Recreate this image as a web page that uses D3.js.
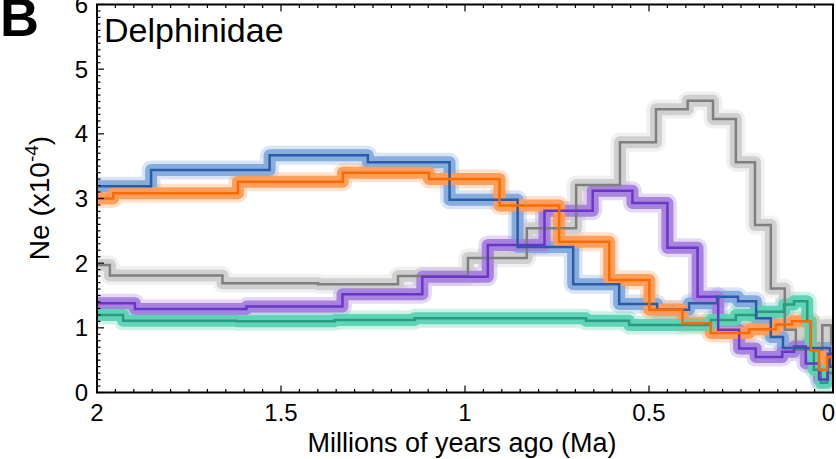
<!DOCTYPE html>
<html>
<head>
<meta charset="utf-8">
<script src="https://cdn.jsdelivr.net/npm/d3@7"></script>
<style>
  html, body { margin: 0; padding: 0; background: #fff; }
  svg { display: block; }
  text { font-family: "Liberation Sans", Arial, Helvetica, sans-serif; fill: #000; }
</style>
</head>
<body>
<svg id="chart" width="836" height="459"></svg>
<script>
// ---- Data (time in Ma, Ne in units of 10^4) ----
const xTickValues = [2, 1.5, 1, 0.5, 0];
const xTickLabels = ["2", "1.5", "1", "0.5", "0"];
const yTickValues = [0, 1, 2, 3, 4, 5, 6];
const yTickLabels = ["0", "1", "2", "3", "4", "5", "6"];

const seriesNames = ["gray", "teal", "blue", "purple", "orange"];

const grayT = [0, 0.005, 0.029, 0.101, 0.131, 0.169, 0.212, 0.264, 0.326, 0.395, 0.481, 0.579, 0.698, 0.832, 0.992, 1.182, 1.399, 1.659, 1.965, 2.0];
const grayV = [0.75, 1.04, 0.66, 0.97, 1.61, 2.59, 3.56, 4.23, 4.51, 4.38, 3.87, 3.21, 2.54, 2.08, 1.80, 1.675, 1.69, 1.81, 1.97, 1.97];

const tealT = [0, 0.016, 0.033, 0.052, 0.061, 0.070, 0.106, 0.133, 0.208, 0.264, 0.332, 0.554, 0.671, 1.137, 1.354, 1.621, 1.929, 2.0];
const tealV = [0.3, 0.15, 0.35, 0.66, 1.10, 1.41, 1.36, 1.25, 1.20, 1.12, 1.045, 1.11, 1.15, 1.12, 1.10, 1.11, 1.20, 1.20];

const blueT = [0, 0.008, 0.136, 0.169, 0.209, 0.258, 0.315, 0.391, 0.478, 0.581, 0.706, 0.857, 1.042, 1.264, 1.531, 1.853, 2.0];
const blueV = [0.4, 0.69, 0.86, 1.15, 1.41, 1.48, 1.38, 1.28, 1.37, 1.675, 2.25, 2.98, 3.56, 3.67, 3.44, 3.19, 3.19];

const purpleT = [0, 0.014, 0.038, 0.074, 0.106, 0.138, 0.210, 0.255, 0.312, 0.368, 0.450, 0.545, 0.653, 0.784, 0.938, 1.116, 1.333, 1.594, 1.897, 2.0];
const purpleV = [0.6, 0.2, 0.45, 0.71, 0.63, 0.55, 0.68, 0.97, 1.48, 2.24, 2.93, 3.12, 2.81, 2.28, 1.79, 1.52, 1.33, 1.29, 1.38, 1.38];

const orangeT = [0, 0.016, 0.038, 0.060, 0.111, 0.155, 0.228, 0.332, 0.409, 0.499, 0.608, 0.744, 0.906, 1.098, 1.332, 1.617, 1.956, 2.0];
const orangeV = [0.55, 0.35, 0.65, 1.10, 1.05, 0.98, 0.92, 1.07, 1.28, 1.74, 2.33, 2.89, 3.30, 3.40, 3.26, 3.08, 3.00, 3.00];

const mainColors = { gray: "#7f7f7f", teal: "#2a9a80", blue: "#2b5ca6", purple: "#6a35c9", orange: "#ff6a00" };
const bandColors = { gray: "#cdcdcd", teal: "#5ad2b3", blue: "#82a9de", purple: "#a47fdd", orange: "#ff9b55" };

const seriesData = {
  gray: grayT.map((t, i) => ({ t, v: grayV[i] })),
  teal: tealT.map((t, i) => ({ t, v: tealV[i] })),
  blue: blueT.map((t, i) => ({ t, v: blueV[i] })),
  purple: purpleT.map((t, i) => ({ t, v: purpleV[i] })),
  orange: orangeT.map((t, i) => ({ t, v: orangeV[i] }))
};

// ---- Layout ----
const svg = d3.select("#chart");
const L = 97, R = 833, T = 4.5, B = 392.5;
const x = d3.scaleLinear().domain([2, 0]).range([L, R]);
const y = d3.scaleLinear().domain([0, 6]).range([B, T]);

svg.append("defs").append("clipPath").attr("id", "plotclip")
  .append("rect").attr("x", L).attr("y", T).attr("width", R - L).attr("height", B - T);

const line = d3.line().x(d => x(d.t)).y(d => y(d.v)).curve(d3.curveStepAfter);

const plot = svg.append("g").attr("clip-path", "url(#plotclip)");

// bootstrap bands: faint outer spread, then denser core
const bandOrder = ["gray", "blue", "purple", "orange", "teal"];
bandOrder.forEach(name => {
  plot.append("path")
    .attr("d", line(seriesData[name]))
    .attr("fill", "none")
    .attr("stroke", bandColors[name])
    .attr("stroke-width", 19)
    .attr("stroke-linejoin", "round")
    .attr("stroke-linecap", "butt")
    .attr("opacity", 0.3);
});
bandOrder.forEach(name => {
  plot.append("path")
    .attr("d", line(seriesData[name]))
    .attr("fill", "none")
    .attr("stroke", bandColors[name])
    .attr("stroke-width", 12)
    .attr("stroke-linejoin", "round")
    .attr("stroke-linecap", "butt")
    .attr("opacity", 0.95);
});
// main lines
const mainOrder = ["gray", "teal", "purple", "blue", "orange"];
mainOrder.forEach(name => {
  plot.append("path")
    .attr("d", line(seriesData[name]))
    .attr("fill", "none")
    .attr("stroke", mainColors[name])
    .attr("stroke-width", 2.5)
    .attr("stroke-linejoin", "miter");
});

// ---- Axes / frame ----
const frame = svg.append("g");
const minorX = d3.range(0, 41).map(i => i * 0.05);
const minorY = d3.range(0, 61).map(i => i * 0.1);
const isMajorX = v => Math.abs(v * 2 - Math.round(v * 2)) < 1e-6;
const isMajorY = v => Math.abs(v - Math.round(v)) < 1e-6;

frame.selectAll(".xb").data(minorX).enter().append("line")
  .attr("x1", d => x(d)).attr("x2", d => x(d))
  .attr("y1", B).attr("y2", d => B - (isMajorX(d) ? 7 : 3.5))
  .attr("stroke", "#000").attr("stroke-width", 1.2);
frame.selectAll(".xt").data(minorX).enter().append("line")
  .attr("x1", d => x(d)).attr("x2", d => x(d))
  .attr("y1", T).attr("y2", d => T + (isMajorX(d) ? 7 : 3.5))
  .attr("stroke", "#000").attr("stroke-width", 1.2);
frame.selectAll(".yl").data(minorY).enter().append("line")
  .attr("x1", L).attr("x2", d => L + (isMajorY(d) ? 7 : 3.5))
  .attr("y1", d => y(d)).attr("y2", d => y(d))
  .attr("stroke", "#000").attr("stroke-width", 1.2);

frame.append("rect")
  .attr("x", L).attr("y", T).attr("width", R - L).attr("height", B - T)
  .attr("fill", "none").attr("stroke", "#000").attr("stroke-width", 2);

// tick labels
svg.selectAll(".xlab").data(xTickValues).enter().append("text")
  .attr("x", d => d === 0 ? 835 : x(d)).attr("y", 421)
  .attr("text-anchor", d => d === 0 ? "end" : "middle").attr("font-size", 24)
  .text((d, i) => xTickLabels[i]);
svg.selectAll(".ylab").data(yTickValues).enter().append("text")
  .attr("x", 88).attr("y", d => y(d) + 8.5)
  .attr("text-anchor", "end").attr("font-size", 24)
  .text((d, i) => yTickLabels[i]);

// axis titles
svg.append("text")
  .attr("x", 462).attr("y", 452)
  .attr("text-anchor", "middle").attr("font-size", 27)
  .text("Millions of years ago (Ma)");

const yt = svg.append("text")
  .attr("transform", "translate(49,198) rotate(-90)")
  .attr("text-anchor", "middle").attr("font-size", 28);
yt.append("tspan").text("Ne (x10");
yt.append("tspan").attr("dy", -11).attr("font-size", 19).text("-4");
yt.append("tspan").attr("dy", 11).text(")");

// panel letter & title
svg.append("text").attr("x", 0).attr("y", 36)
  .attr("font-size", 54).attr("font-weight", "bold").text("B");
svg.append("text").attr("x", 104).attr("y", 42)
  .attr("font-size", 34).text("Delphinidae");
</script>
</body>
</html>
